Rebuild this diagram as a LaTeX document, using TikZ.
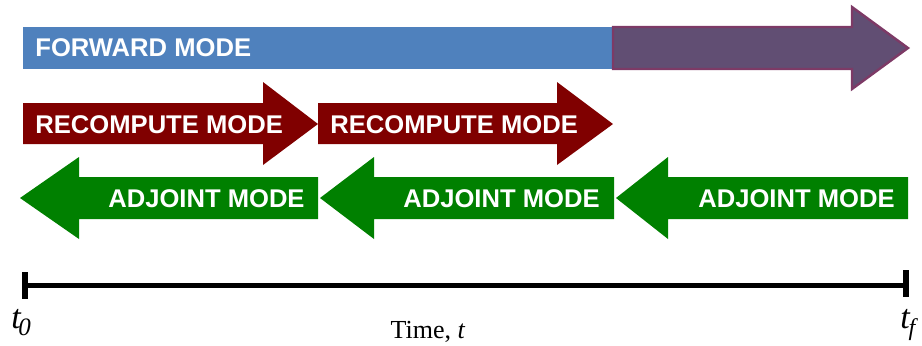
\documentclass[tikz,border=0pt]{standalone}
\usepackage{fontspec}
\setmainfont{Liberation Serif}
\setsansfont{Liberation Sans}
\usepackage{tikz}
\usetikzlibrary{positioning,calc}

\definecolor{fwdblue}{HTML}{4F81BD}
\definecolor{fwdpurple}{HTML}{614E73}
\definecolor{fwdedge}{HTML}{7D3A66}
\definecolor{recred}{HTML}{800000}
\definecolor{adjgreen}{HTML}{008000}

\begin{document}
\begin{tikzpicture}[
        x=0.5pt, y=-0.5pt,
        modelabel/.style={font=\fontsize{12.8}{13}\selectfont\sffamily\bfseries, text=white, inner sep=0pt},
        timelabel/.style={font=\fontsize{13}{14}\selectfont, inner sep=0pt},
        endlabel/.style={font=\fontsize{17}{17}\selectfont\itshape, inner sep=0pt, anchor=base west}
      ]
  \useasboundingbox (0,0) rectangle (922,345);

  % forward sweep
  \fill[fwdblue] (23,27) rectangle (613,69);
  \filldraw[fill=fwdpurple, draw=fwdedge, line width=1.2pt]
    (613,27) -- (852,27) -- (852,7) -- (908,48) -- (852,89) -- (852,69) -- (613,69) -- cycle;
  \node[modelabel, anchor=west] (fwd) at (35,48) {FORWARD MODE};

  % recompute sweeps
  \fill[recred] (23,103) -- (263,103) -- (263,82) -- (318,124) -- (263,165) -- (263,144) -- (23,144) -- cycle;
  \fill[recred] (318,103) -- (557,103) -- (557,82) -- (613,124) -- (557,165) -- (557,144) -- (318,144) -- cycle;
  \node[modelabel, anchor=west] (rec1) at (35,125) {RECOMPUTE MODE};
  \node[modelabel, anchor=west] (rec2) at (330,125) {RECOMPUTE MODE};

  % adjoint sweeps
  \fill[adjgreen] (20,198) -- (79,157) -- (79,177) -- (318,177) -- (318,219) -- (79,219) -- (79,239) -- cycle;
  \fill[adjgreen] (320,198) -- (374,157) -- (374,177) -- (614,177) -- (614,219) -- (374,219) -- (374,239) -- cycle;
  \fill[adjgreen] (616,198) -- (668,157) -- (668,177) -- (908,177) -- (908,219) -- (668,219) -- (668,239) -- cycle;
  \node[modelabel, anchor=east] (adj1) at (305,199) {ADJOINT MODE};
  \node[modelabel, anchor=east] (adj2) at (600,199) {ADJOINT MODE};
  \node[modelabel, anchor=east] (adj3) at (895,199) {ADJOINT MODE};

  % time axis
  \coordinate (t0) at (25,285);
  \coordinate (tf) at (906,285);
  \draw[line width=2.5pt] (t0) -- (tf);
  \draw[line width=2.6pt] ($(t0)+(0,-13)$) -- ($(t0)+(0,14)$);
  \draw[line width=2.6pt] ($(tf)+(0,-15)$) -- ($(tf)+(0,12)$);

  \node[endlabel] (t0lbl) at (11,328) {t\kern-1.2pt\raisebox{-3.5pt}{\fontsize{12.5}{12.5}\selectfont 0}};
  \node[endlabel] (tflbl) at (900,328) {t\kern-0.6pt\raisebox{-3.5pt}{\fontsize{12}{12}\selectfont f}};
  \node[timelabel, anchor=base] (time) at (428,338) {Time, \textit{t}};

\end{tikzpicture}
\end{document}
